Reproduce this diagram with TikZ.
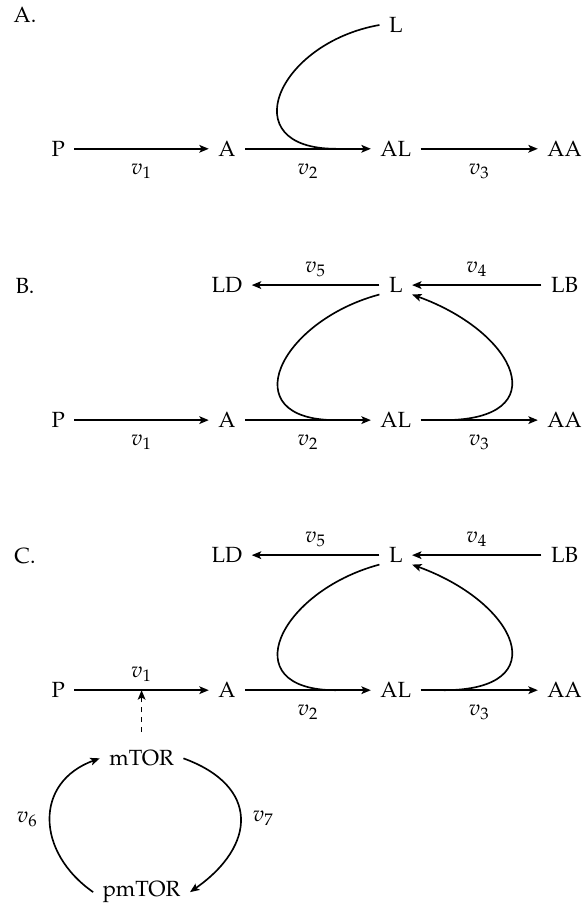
\documentclass[tikz,border=0pt]{standalone}
\usepackage[T1]{fontenc}
\usepackage{mathpazo}
\usetikzlibrary{positioning,arrows.meta}

\begin{document}
\begin{tikzpicture}[
  >={Stealth[length=4.3pt,width=3.5pt,inset=1pt]}, line width=0.75pt,
  on grid, node distance=2.16cm and 2.7cm,
  sp/.style={inner sep=4pt},
  panel/.style={inner sep=0pt}]
  \useasboundingbox (0,0) rectangle (9.31,-14.46);

  % panel A
  \node[panel] (labA) at (0.40,-0.24) {A.};
  \node[sp] (aP) at (0.93,-2.38) {P};
  \node[sp, right=of aP] (aA) {A};
  \node[sp, right=of aA] (aAL) {AL};
  \node[sp, right=of aAL] (aAA) {AA};
  \node[sp, above=1.98cm of aAL] (aL) {L};

  \draw[->] (aP) -- node[below=3pt] {$v_1$} (aA);
  \draw[->] (aA) -- node[below=3pt] {$v_2$} (aAL);
  \draw[->] (aAL) -- node[below=3pt] {$v_3$} (aAA);
  \draw (aL.west) .. controls +(190:1.66) and +(180:1.66) .. ([xshift=-0.56cm]aAL.west);

  % panel B
  \node[panel] (labB) at (0.40,-4.57) {B.};
  \node[sp] (bP) at (0.93,-6.72) {P};
  \node[sp, right=of bP] (bA) {A};
  \node[sp, right=of bA] (bAL) {AL};
  \node[sp, right=of bAL] (bAA) {AA};
  \node[sp, above=of bAL] (bL) {L};
  \node[sp, left=of bL] (bLD) {LD};
  \node[sp, right=of bL] (bLB) {LB};

  \draw[->] (bP) -- node[below=3pt] {$v_1$} (bA);
  \draw[->] (bA) -- node[below=3pt] {$v_2$} (bAL);
  \draw[->] (bAL) -- node[below=3pt] {$v_3$} (bAA);
  \draw[->] (bL) -- node[above] {$v_5$} (bLD);
  \draw[->] (bLB) -- node[above] {$v_4$} (bL);
  \draw (bL.210) .. controls +(195:1.66) and +(180:1.66) .. ([xshift=-0.56cm]bAL.west);
  \draw[->] ([xshift=0.37cm]bAL.east) .. controls +(0:1.8) and +(340:1.8) .. (bL.330);

  % panel C
  \node[panel] (labC) at (0.40,-8.89) {C.};
  \node[sp] (cP) at (0.93,-11.04) {P};
  \node[sp, right=of cP] (cA) {A};
  \node[sp, right=of cA] (cAL) {AL};
  \node[sp, right=of cAL] (cAA) {AA};
  \node[sp, above=of cAL] (cL) {L};
  \node[sp, left=of cL] (cLD) {LD};
  \node[sp, right=of cL] (cLB) {LB};

  \draw[->] (cP) -- coordinate[midway] (cv1) node[above] {$v_1$} (cA);
  \draw[->] (cA) -- node[below=3pt] {$v_2$} (cAL);
  \draw[->] (cAL) -- node[below=3pt] {$v_3$} (cAA);
  \draw[->] (cL) -- node[above] {$v_5$} (cLD);
  \draw[->] (cLB) -- node[above] {$v_4$} (cL);
  \draw (cL.210) .. controls +(195:1.66) and +(180:1.66) .. ([xshift=-0.56cm]cAL.west);
  \draw[->] ([xshift=0.37cm]cAL.east) .. controls +(0:1.8) and +(340:1.8) .. (cL.330);

  % mTOR cycle
  \node[sp] (mtor) at (cv1 |- 0,-12.13) {mTOR};
  \node[sp] (pmtor) at (cv1 |- 0,-14.27) {pmTOR};
  \draw[->, dash pattern=on 2.5pt off 2pt, shorten <=4pt] (mtor) -- (cv1);
  \draw[->] (pmtor.west) .. controls +(145:1.12) and +(200:1.12) .. node[left=2pt] {$v_6$} (mtor.west);
  \draw[->] (mtor.east) .. controls +(340:1.3) and +(35:1.3) .. node[right=2pt] {$v_7$} (pmtor.east);
\end{tikzpicture}
\end{document}
